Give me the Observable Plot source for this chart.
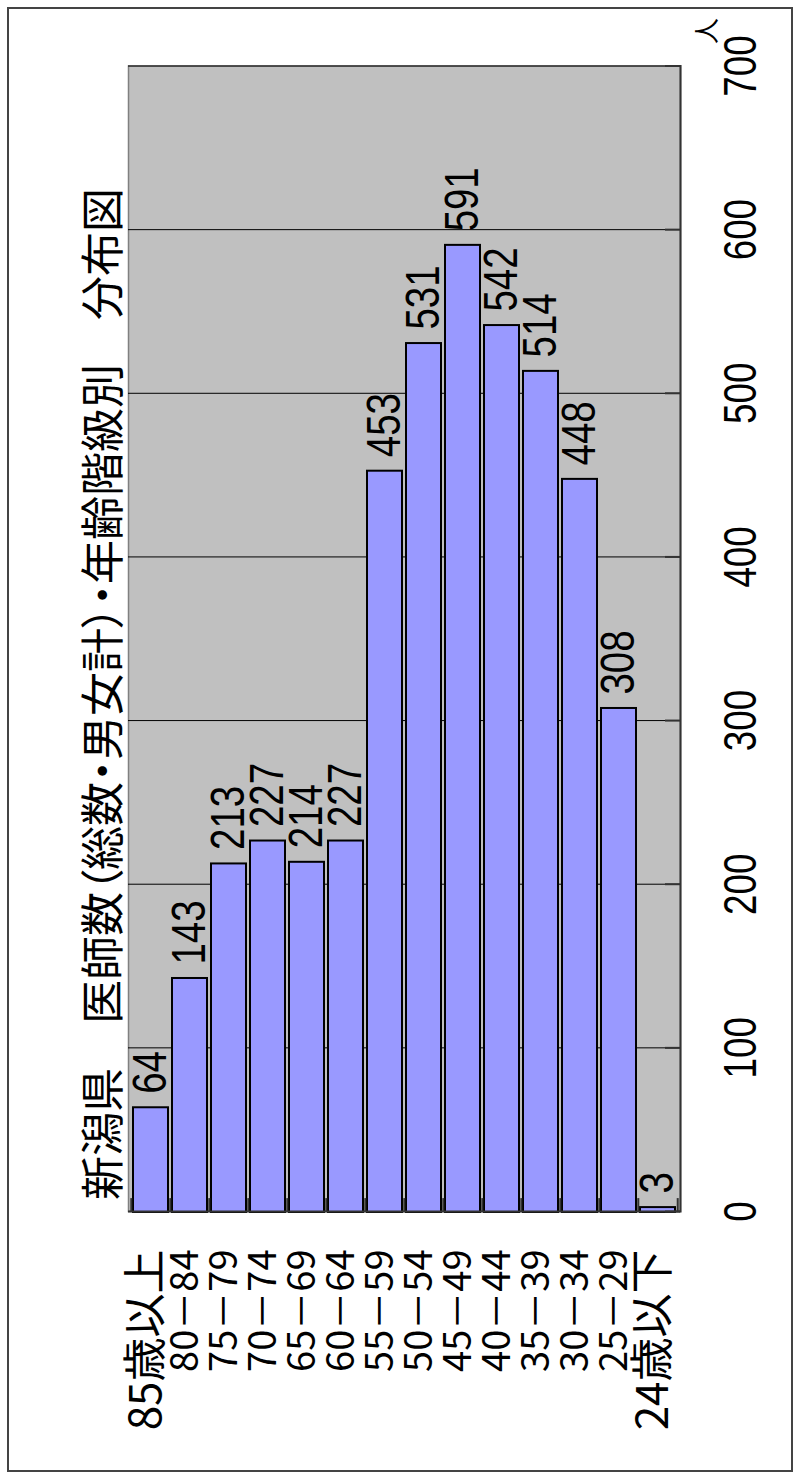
<!DOCTYPE html>
<html>
<head>
<meta charset="utf-8">
<script src="https://cdn.jsdelivr.net/npm/d3@7"></script>
<script src="https://cdn.jsdelivr.net/npm/@observablehq/plot@0.6"></script>
<style>
  html, body { margin: 0; padding: 0; background: #fff; overflow: hidden; width: 800px; height: 1479px; }
  #wrap { position: absolute; left: 0; top: 0; width: 1479px; height: 800px;
          transform-origin: 0 0; transform: translateY(1479px) rotate(-90deg); background: #fff; }
  #border { position: absolute; left: 7px; top: 7px; width: 1465px; height: 786px;
            border: 2px solid #444; box-sizing: border-box; }
  #title { position: absolute; left: 279px; top: 78px; font-size: 44px; line-height: 44px;
           font-family: "Noto Sans CJK JP", sans-serif; font-feature-settings: "palt";
           white-space: nowrap; color: #000; }
  #chart { position: absolute; left: 0; top: 0; }
  #chart text { font-feature-settings: "palt"; }
</style>
</head>
<body>
<div id="wrap">
  <div id="border"></div>
  <div id="title">新潟県　医師数（総数・男女計）・年齢階級別　分布図</div>
  <div id="chart"></div>
</div>
<script>
const ages = ["85歳以上","80－84","75－79","70－74","65－69","60－64","55－59","50－54","45－49","40－44","35－39","30－34","25－29","24歳以下"];
const counts = [64,143,213,227,214,227,453,531,591,542,514,448,308,3];
const xTicks = [0,100,200,300,400,500,600,700];
const unitLabel = "人";

const data = ages.map((a, i) => ({age: a, value: counts[i]}));
const numFont = '"Liberation Sans", Arial, sans-serif';
const jpFont = '"Noto Sans CJK JP", sans-serif';

const W = 1479, H = 800;
const mL = 267, mR = 66.5, mT = 128, mB = 120;
const step = (H - mT - mB) / ages.length;

const chart = Plot.plot({
  width: W, height: H,
  marginLeft: mL, marginRight: mR, marginTop: mT, marginBottom: mB,
  style: {background: "transparent", overflow: "visible"},
  x: {domain: [0, 700], axis: null, label: null},
  y: {domain: ages, axis: null, padding: 0.1, label: null},
  marks: [
    Plot.frame({fill: "#c0c0c0", stroke: "#808080", strokeWidth: 1.5}),
    Plot.gridX(xTicks, {stroke: "#000", strokeOpacity: 1, strokeWidth: 1}),
    Plot.barX(data, {x: "value", y: "age", fill: "#9999ff", stroke: "#000", strokeWidth: 2}),
    Plot.text(data, {x: "value", y: "age", text: d => String(d.value), textAnchor: "start",
      lineAnchor: "middle", dx: 13, fontSize: 48, fontFamily: numFont, fill: "#000"}),
    // category boundary ticks (inside)
    Plot.ruleY(ages, {y: d => d, x1: 0, x2: 8.5, dy: -step / 2, stroke: "#333", strokeWidth: 2}),
    Plot.ruleY([ages[ages.length - 1]], {y: d => d, x1: 0, x2: 8.5, dy: step / 2, stroke: "#333", strokeWidth: 2}),
    // value axis inner ticks
    Plot.axisX(xTicks, {anchor: "bottom", label: null, tickSize: -15, tickFormat: () => "", stroke: "#333", strokeWidth: 2}),
    // axis lines
    Plot.ruleX([0], {stroke: "#333", strokeWidth: 2}),
    Plot.frame({anchor: "bottom", stroke: "#333", strokeWidth: 2}),
    // value tick labels
    Plot.text(xTicks, {x: d => d, frameAnchor: "bottom", dy: 61, text: d => String(d),
      textAnchor: "middle", lineAnchor: "middle", fontSize: 46, fontFamily: numFont, fill: "#000"}),
    // unit
    Plot.text([unitLabel], {frameAnchor: "bottom-right", dx: 35, dy: 27, text: d => d,
      textAnchor: "middle", lineAnchor: "middle", fontSize: 26, fontFamily: jpFont, fill: "#000"}),
    // category labels
    Plot.text(ages, {y: d => d, frameAnchor: "left", dx: -38, dy: -4, text: d => d,
      textAnchor: "end", lineAnchor: "middle",
      fontSize: d => (d.includes("歳") ? 44 : 38), fontFamily: jpFont, fill: "#000"})
  ]
});
document.getElementById("chart").appendChild(chart);

// condense numeric labels (narrow digits as in the original)
chart.querySelectorAll("text").forEach(el => {
  if (!/^\d+$/.test(el.textContent.trim())) return;
  const t = el.getAttribute("transform") || "";
  el.setAttribute("transform", `${t} scale(0.8,1)`);
});
</script>
</body>
</html>
